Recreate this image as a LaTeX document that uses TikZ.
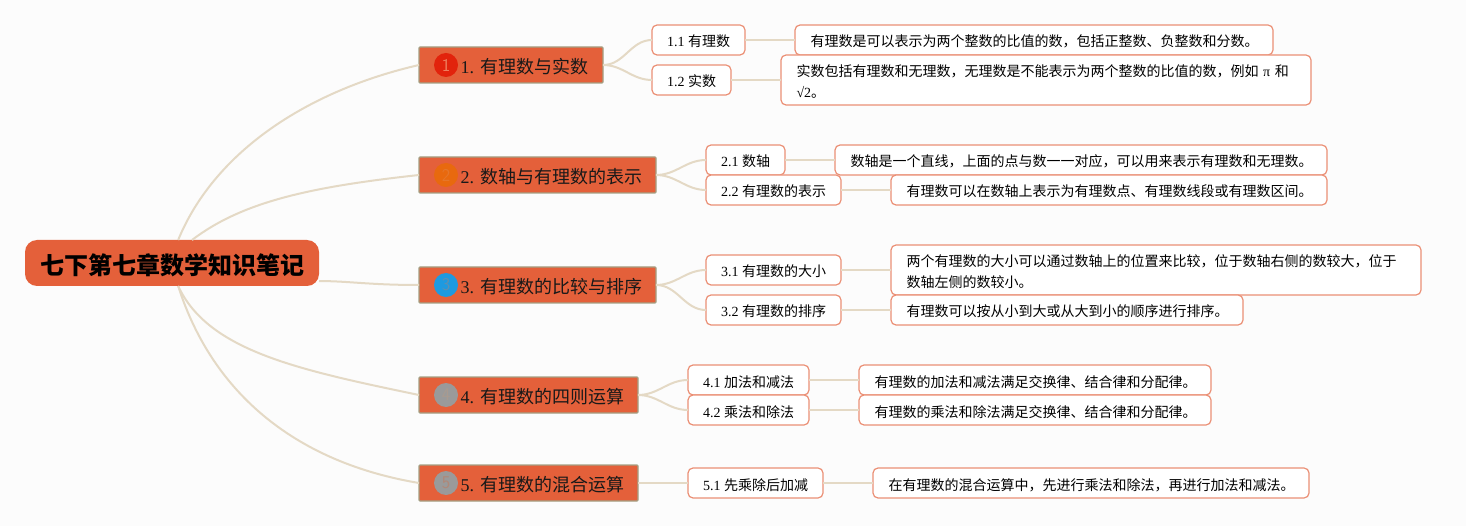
\documentclass[tikz,border=0pt]{standalone}
\usepackage{fontspec}
\setmainfont{Liberation Serif}
\newfontfamily\cjk{Noto Sans CJK SC}
\usepackage{xcolor}
\usetikzlibrary{positioning}
\definecolor{nodefill}{HTML}{E4603A}
\definecolor{nodeline}{HTML}{EB8F75}
\definecolor{branchline}{HTML}{A5A084}
\definecolor{linkcol}{HTML}{E4D9C5}
\definecolor{pagecol}{HTML}{FCFCFC}
\tikzset{
  rootbox/.style={fill=nodefill,rounded corners=12pt,minimum width=294pt,minimum height=46pt,inner sep=0pt,outer sep=0pt,text height=26pt,text depth=2pt,font=\fontsize{24}{28}\selectfont\cjk\bfseries},
  branchbox/.style={draw=branchline,line width=1.2pt,fill=nodefill,rounded corners=1pt,anchor=west,minimum height=36pt,inner xsep=0pt,inner ysep=0pt,outer sep=0pt,text width=#1,align=left,text height=17pt,text depth=0pt,text=black!90,font=\fontsize{18}{22}\selectfont\frenchspacing,execute at begin node={\hspace*{41.5pt}}},
  subbox/.style={draw=nodeline,line width=1.2pt,fill=white,rounded corners=5pt,minimum width=#1,minimum height=30pt,inner sep=0pt,outer sep=0pt,text height=14pt,text depth=0pt,font=\fontsize{14}{21}\selectfont},
  leafbox/.style={draw=nodeline,line width=1.2pt,fill=white,rounded corners=5pt,text width=#1,minimum height=30pt,inner xsep=15.5pt,inner ysep=0pt,outer sep=0pt,text height=14pt,text depth=0pt,align=left,font=\fontsize{14}{21}\selectfont},
  twolines/.style={minimum height=50pt,text height=9pt,text depth=15.4pt},
  iconbox/.style={circle,minimum size=24pt,inner sep=0pt,font=\fontsize{18}{20}\selectfont\sffamily},
  link/.style={draw=linkcol,line width=2pt},
}
\begin{document}
\begin{tikzpicture}[x=1pt,y=-1pt,node distance=50pt]
\useasboundingbox[fill=pagecol] (0,0) rectangle (1466,526);
\node (root) [rootbox] at (172,263) {七下第七章数学知识笔记};

\node (b1) [branchbox=184pt] at (419,65) {1. {\cjk 有理数与实数}};
\node (b2) [branchbox=237pt] at (419,175) {2. {\cjk 数轴与有理数的表示}};
\node (b3) [branchbox=237pt] at (419,285) {3. {\cjk 有理数的比较与排序}};
\node (b4) [branchbox=219pt] at (419,395) {4. {\cjk 有理数的四则运算}};
\node (b5) [branchbox=219pt] at (419,483) {5. {\cjk 有理数的混合运算}};

\node (i1) [iconbox,fill={rgb,255:red,226;green,35;blue,12},text={rgb,255:red,238;green,127;blue,95}] at ([xshift=27pt]b1.west) {1};
\node (i2) [iconbox,fill={rgb,255:red,232;green,105;blue,14},text={rgb,255:red,229;green,118;blue,42}] at ([xshift=27pt]b2.west) {2};
\node (i3) [iconbox,fill={rgb,255:red,30;green,154;blue,224},text={rgb,255:red,95;green,143;blue,176}] at ([xshift=27pt]b3.west) {3};
\node (i4) [iconbox,fill={rgb,255:red,154;green,154;blue,154},text={rgb,255:red,168;green,154;blue,144}] at ([xshift=27pt]b4.west) {4};
\node (i5) [iconbox,fill={rgb,255:red,154;green,154;blue,154},text={rgb,255:red,176;green,136;blue,120}] at ([xshift=27pt]b5.west) {5};

\node (s11) [subbox=93pt,right=49pt of b1,yshift=25pt] {1.1 {\cjk 有理数}};
\node (s12) [subbox=79pt,right=49pt of b1,yshift=-15pt] {1.2 {\cjk 实数}};
\node (s21) [subbox=79pt,right=of b2,yshift=15pt] {2.1 {\cjk 数轴}};
\node (s22) [subbox=135pt,right=of b2,yshift=-15pt] {2.2 {\cjk 有理数的表示}};
\node (s31) [subbox=135pt,right=of b3,yshift=15pt] {3.1 {\cjk 有理数的大小}};
\node (s32) [subbox=135pt,right=of b3,yshift=-25pt] {3.2 {\cjk 有理数的排序}};
\node (s41) [subbox=121pt,right=of b4,yshift=15pt] {4.1 {\cjk 加法和减法}};
\node (s42) [subbox=121pt,right=of b4,yshift=-15pt] {4.2 {\cjk 乘法和除法}};
\node (s51) [subbox=135pt,right=of b5] {5.1 {\cjk 先乘除后加减}};

\node (l11) [leafbox=447pt,right=of s11] {\cjk 有理数是可以表示为两个整数的比值的数，包括正整数、负整数和分数。};
\node (l12) [leafbox=499pt,twolines,right=of s12] {{\cjk 实数包括有理数和无理数，无理数是不能表示为两个整数的比值的数，例如} π {\cjk 和}\\√2{\cjk 。}};
\node (l21) [leafbox=461pt,right=of s21] {\cjk 数轴是一个直线，上面的点与数一一对应，可以用来表示有理数和无理数。};
\node (l22) [leafbox=405pt,right=of s22] {\cjk 有理数可以在数轴上表示为有理数点、有理数线段或有理数区间。};
\node (l31) [leafbox=499pt,twolines,right=of s31] {\cjk 两个有理数的大小可以通过数轴上的位置来比较，位于数轴右侧的数较大，位于\\数轴左侧的数较小。};
\node (l32) [leafbox=321pt,right=of s32] {\cjk 有理数可以按从小到大或从大到小的顺序进行排序。};
\node (l41) [leafbox=321pt,right=of s41] {\cjk 有理数的加法和减法满足交换律、结合律和分配律。};
\node (l42) [leafbox=321pt,right=of s42] {\cjk 有理数的乘法和除法满足交换律、结合律和分配律。};
\node (l51) [leafbox=405pt,right=of s51] {\cjk 在有理数的混合运算中，先进行乘法和除法，再进行加法和减法。};

% root to branches
\draw[link] (root.75) .. controls +(37,-90) and +(-109,25) .. (b1.west);
\draw[link] (root.49) .. controls +(50,-38) and +(-110,12) .. (b2.west);
\draw[link] (root.-7) .. controls +(30,0) and +(-50,0) .. (b3.west);
\draw[link] (root.-75) .. controls +(30,65) and +(-120,-25) .. (b4.west);
\draw[link] (root.-75) .. controls +(35,110) and +(-120,-20) .. (b5.west);

% branches to subs
\draw[link] (b1.east) to[out=0,in=180] (s11.west);
\draw[link] (b1.east) to[out=0,in=180] (s12.west);
\draw[link] (b2.east) to[out=0,in=180] (s21.west);
\draw[link] (b2.east) to[out=0,in=180] (s22.west);
\draw[link] (b3.east) to[out=0,in=180] (s31.west);
\draw[link] (b3.east) to[out=0,in=180] (s32.west);
\draw[link] (b4.east) to[out=0,in=180] (s41.west);
\draw[link] (b4.east) to[out=0,in=180] (s42.west);
\draw[link] (b5.east) -- (s51.west);

% subs to leaves
\draw[link] (s11) -- (l11);
\draw[link] (s12) -- (l12);
\draw[link] (s21) -- (l21);
\draw[link] (s22) -- (l22);
\draw[link] (s31) -- (l31);
\draw[link] (s32) -- (l32);
\draw[link] (s41) -- (l41);
\draw[link] (s42) -- (l42);
\draw[link] (s51) -- (l51);
\end{tikzpicture}
\end{document}
